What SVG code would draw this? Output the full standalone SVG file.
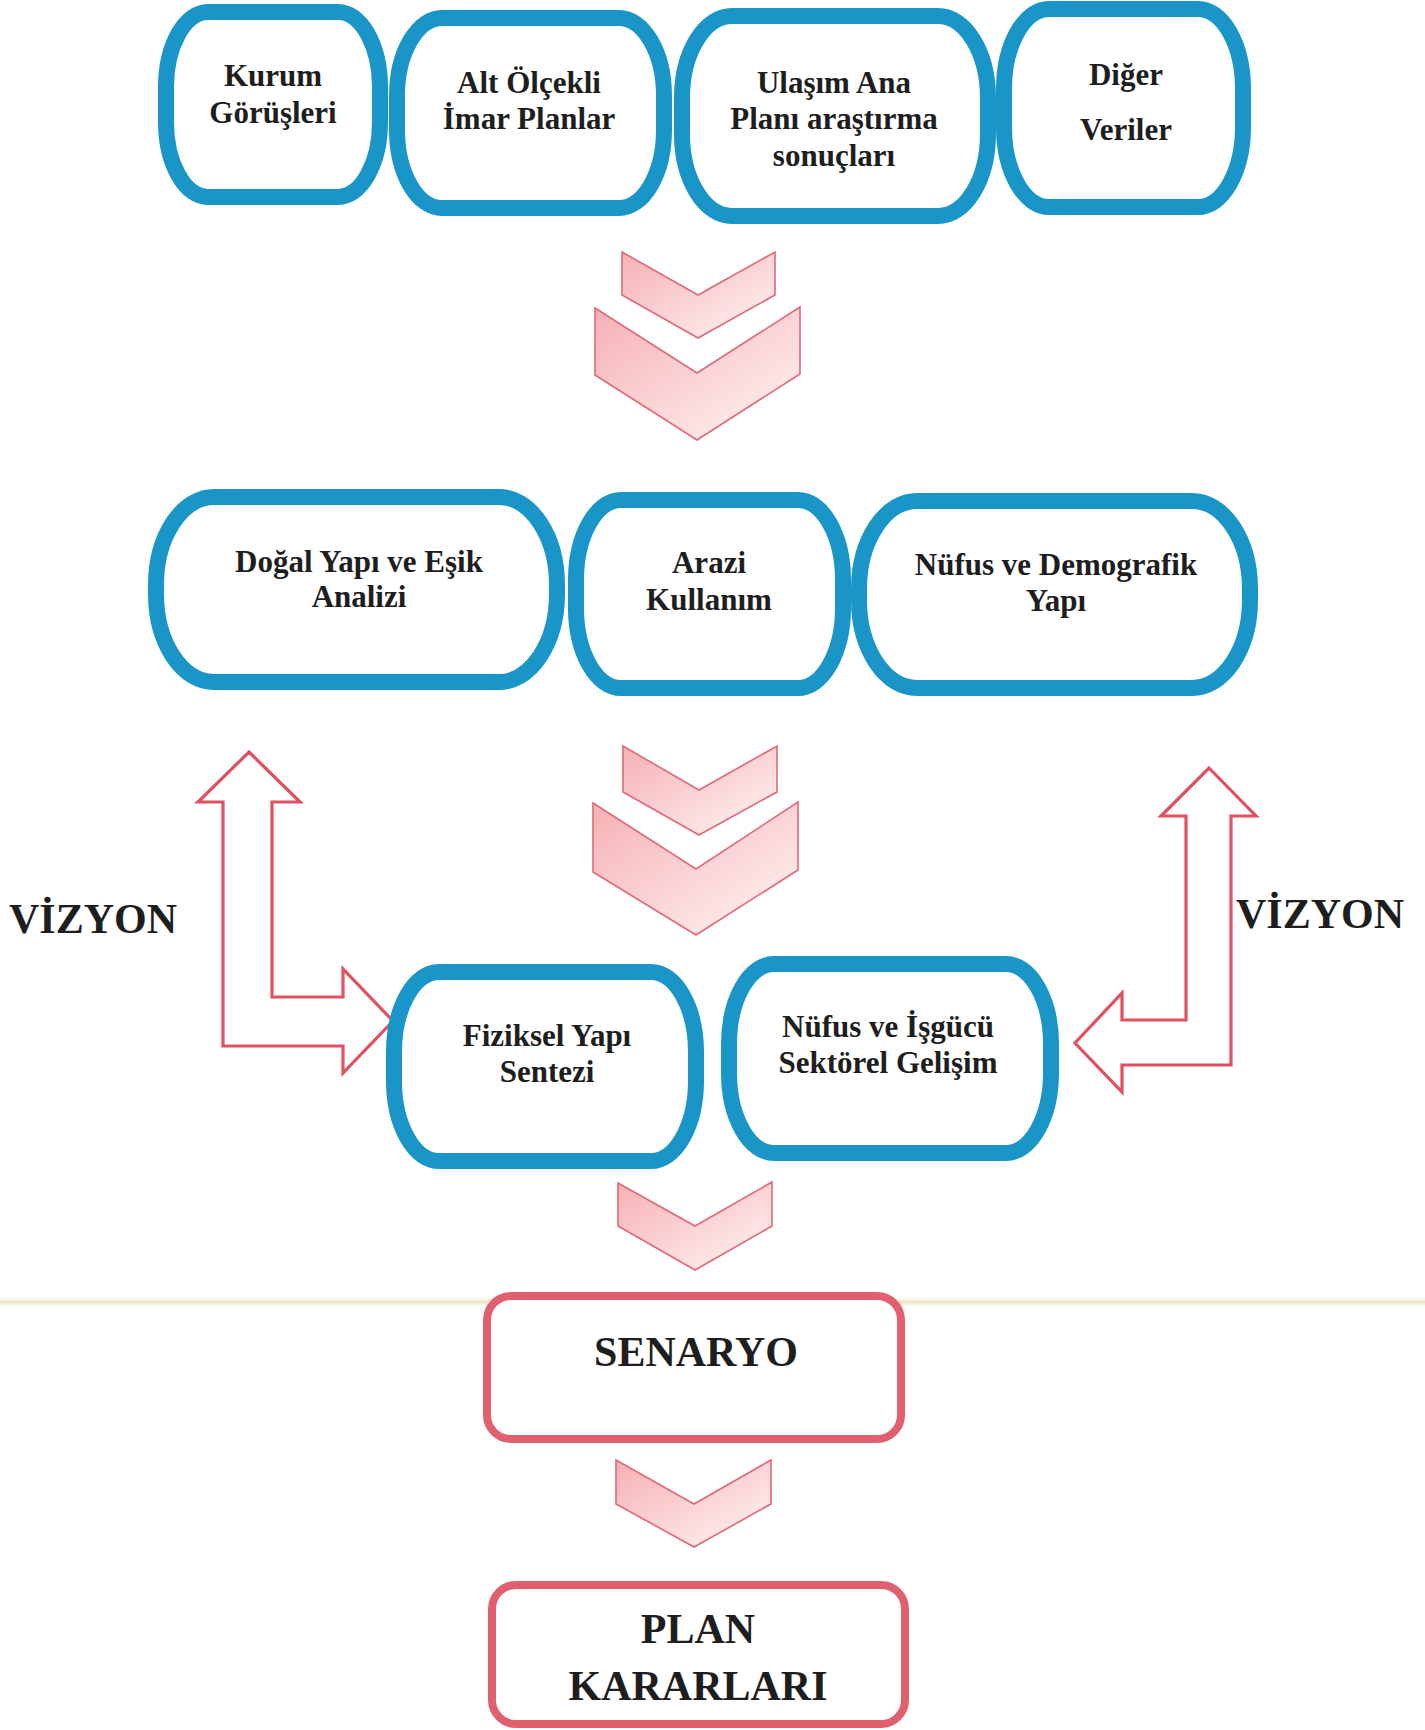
<svg xmlns="http://www.w3.org/2000/svg" width="1425" height="1730" viewBox="0 0 1425 1730">
<defs>
<linearGradient id="chev" x1="0" y1="0" x2="1" y2="1">
<stop offset="0" stop-color="#f6b0b4"/>
<stop offset="1" stop-color="#fff6f6"/>
</linearGradient>
<linearGradient id="rule" x1="0" y1="0" x2="0" y2="1">
<stop offset="0" stop-color="#f4eedb" stop-opacity="0"/>
<stop offset="0.5" stop-color="#ece2c0"/>
<stop offset="1" stop-color="#f4eedb" stop-opacity="0"/>
</linearGradient>
</defs>
<style>
.blue{fill:#ffffff;stroke:#1a95c8;stroke-width:16}
.red{fill:#ffffff;stroke:#e0606f;stroke-width:8}
.chev{fill:url(#chev);stroke:#e26878;stroke-width:1.6;stroke-linejoin:miter}
.arr{fill:#ffffff;stroke:#e0505f;stroke-width:3.2;stroke-linejoin:miter}
.t{font-family:"Liberation Serif","Times New Roman",serif;font-weight:bold;font-size:31px;fill:#1e1e1e;text-anchor:middle}
.big{font-size:42px}
</style>
<rect x="0" y="0" width="1425" height="1730" fill="#ffffff"/>
<rect x="0" y="1297" width="1425" height="10" fill="url(#rule)"/>

<g id="connectors">
<path class="chev" d="M622,252 L698,295 L775,252 L775,295 L698,338 L622,295 Z"/>
<path class="chev" d="M595,308 L697,373 L800,307 L800,374 L697,440 L595,375 Z"/>
<path class="chev" d="M623,746 L699,790 L777,746 L777,792 L699,835 L623,792 Z"/>
<path class="chev" d="M593,803 L696,869 L798,802 L798,870 L696,935 L593,872 Z"/>
<path class="chev" d="M618,1183 L695,1226 L772,1182 L772,1226 L695,1270 L618,1226 Z"/>
<path class="chev" d="M616,1460 L694,1504 L771,1460 L771,1504 L694,1547 L616,1504 Z"/>
<path class="arr" d="M249,752 L300,802 L272,802 L272,997 L343,997 L343,969 L393,1021 L343,1073 L343,1046 L223,1046 L223,802 L198,802 Z"/>
<path class="arr" d="M1209,768 L1256,816 L1231,816 L1231,1065 L1122,1065 L1122,1092 L1075,1043 L1122,993 L1122,1020 L1186,1020 L1186,816 L1161,816 Z"/>
</g>

<g id="vizyon-left"><text class="t big" x="93" y="933">VİZYON</text></g>
<g id="vizyon-right"><text class="t big" x="1320" y="928">VİZYON</text></g>

<g id="kurum">
<rect class="blue" x="166" y="12" width="214" height="185" rx="42" ry="75"/>
<text class="t" x="273" y="86">Kurum</text>
<text class="t" x="273" y="123">Görüşleri</text>
</g>
<g id="alt-olcekli">
<rect class="blue" x="397" y="18" width="267" height="190" rx="45" ry="78"/>
<text class="t" x="529" y="93">Alt Ölçekli</text>
<text class="t" x="529" y="129">İmar Planlar</text>
</g>
<g id="ulasim">
<rect class="blue" x="682" y="16" width="306" height="200" rx="50" ry="82"/>
<text class="t" x="834" y="93">Ulaşım Ana</text>
<text class="t" x="834" y="129">Planı araştırma</text>
<text class="t" x="834" y="166">sonuçları</text>
</g>
<g id="diger">
<rect class="blue" x="1004" y="9" width="239" height="198" rx="45" ry="80"/>
<text class="t" x="1126" y="85">Diğer</text>
<text class="t" x="1126" y="140">Veriler</text>
</g>

<g id="dogal">
<rect class="blue" x="156" y="497" width="401" height="185" rx="58" ry="88"/>
<text class="t" x="359" y="572">Doğal Yapı ve Eşik</text>
<text class="t" x="359" y="607">Analizi</text>
</g>
<g id="arazi">
<rect class="blue" x="576" y="500" width="267" height="188" rx="45" ry="80"/>
<text class="t" x="709" y="573">Arazi</text>
<text class="t" x="709" y="610">Kullanım</text>
</g>
<g id="nufus-demografik">
<rect class="blue" x="859" y="501" width="391" height="187" rx="58" ry="88"/>
<text class="t" x="1056" y="575">Nüfus ve Demografik</text>
<text class="t" x="1056" y="611">Yapı</text>
</g>

<g id="fiziksel">
<rect class="blue" x="394" y="972" width="302" height="189" rx="45" ry="80"/>
<text class="t" x="547" y="1046">Fiziksel Yapı</text>
<text class="t" x="547" y="1082">Sentezi</text>
</g>
<g id="nufus-isgucu">
<rect class="blue" x="729" y="964" width="322" height="189" rx="45" ry="80"/>
<text class="t" x="888" y="1037">Nüfus ve İşgücü</text>
<text class="t" x="888" y="1073">Sektörel Gelişim</text>
</g>

<g id="senaryo">
<rect class="red" x="487" y="1296" width="414" height="143" rx="24" ry="24"/>
<text class="t big" x="696" y="1366">SENARYO</text>
</g>
<g id="plan-kararlari">
<rect class="red" x="492" y="1585" width="413" height="139" rx="24" ry="24"/>
<text class="t big" x="698" y="1643">PLAN</text>
<text class="t big" x="698" y="1700">KARARLARI</text>
</g>
</svg>
